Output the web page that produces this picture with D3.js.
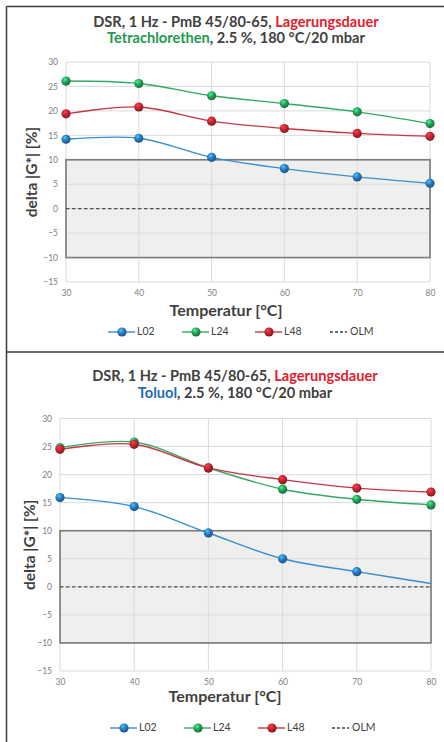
<!DOCTYPE html>
<html>
<head>
<meta charset="utf-8">
<script src="https://cdn.jsdelivr.net/npm/d3@7"></script>
<style>
  html, body { margin: 0; padding: 0; background: #fff; }
  svg { display: block; font-family: Lato, "Open Sans", sans-serif; }
</style>
</head>
<body>
<svg id="chart" width="444" height="742"></svg>
<script>
// ---------- DATA ----------
const temperatures = [30, 40, 50, 60, 70, 80];
const xTicks = [30, 40, 50, 60, 70, 80];
const yTicks = [-15, -10, -5, 0, 5, 10, 15, 20, 25, 30];
const seriesNames = ["L02", "L24", "L48"];
const refName = "OLM";
const tolerance = [-10, 10];

// Chart 1: Tetrachlorethen
const tetraL02 = [14.2, 14.4, 10.5, 8.2, 6.5, 5.2];
const tetraL24 = [26.1, 25.6, 23.1, 21.5, 19.8, 17.4];
const tetraL48 = [19.4, 20.8, 17.9, 16.4, 15.4, 14.8];

// Chart 2: Toluol
const toluolL02 = [15.9, 14.3, 9.6, 5.0, 2.7, 0.6];
const toluolL24 = [24.8, 25.8, 21.2, 17.4, 15.6, 14.6];
const toluolL48 = [24.5, 25.4, 21.2, 19.1, 17.6, 16.9];

const titleLine1 = ["DSR, 1 Hz - PmB 45/80-65, ", "Lagerungsdauer"];
const titleLine2Tetra = ["Tetrachlorethen", ", 2.5 %, 180 °C/20 mbar"];
const titleLine2Toluol = ["Toluol", ", 2.5 %, 180 °C/20 mbar"];
const yAxisTitle = "delta |G*| [%]";
const xAxisTitle = "Temperatur [°C]";

// ---------- STYLE ----------
const colors = { L02: "#2b7cc4", L24: "#27a35a", L48: "#c52630" };
const lineColors = { L02: "#3a8dd0", L24: "#35a866", L48: "#c33a44" };
const textDark = "#404040";
const titleRed = "#e3202c";
const titleGreen = "#1f9a4f";
const titleBlue = "#1f6db4";

const svg = d3.select("#chart");
const defs = svg.append("defs");
seriesNames.forEach(n => {
  const g = defs.append("radialGradient").attr("id", "ball-" + n)
    .attr("cx", "38%").attr("cy", "32%").attr("r", "70%");
  g.append("stop").attr("offset", "0%").attr("stop-color", d3.color(colors[n]).brighter(1.4));
  g.append("stop").attr("offset", "45%").attr("stop-color", colors[n]);
  g.append("stop").attr("offset", "100%").attr("stop-color", d3.color(colors[n]).darker(1.2));
});

// Panel borders
svg.append("line").attr("x1", 6.5).attr("x2", 444).attr("y1", 6.5).attr("y2", 6.5)
  .attr("stroke", "#3a3a3a").attr("stroke-width", 1.5);
svg.append("line").attr("x1", 6.5).attr("x2", 6.5).attr("y1", 6.5).attr("y2", 742)
  .attr("stroke", "#3a3a3a").attr("stroke-width", 1.5);
svg.append("line").attr("x1", 6.5).attr("x2", 444).attr("y1", 352).attr("y2", 352)
  .attr("stroke", "#3a3a3a").attr("stroke-width", 1.5);

function drawChart(cfg) {
  const g = svg.append("g");
  const x = d3.scaleLinear().domain([30, 80]).range(cfg.xRange);
  const y = d3.scaleLinear().domain([-15, 30]).range(cfg.yRange);

  // Title
  const t1 = g.append("text").attr("x", cfg.titleX).attr("y", cfg.titleY1)
    .attr("text-anchor", "middle").attr("font-weight", "bold").attr("font-size", 14.6);
  t1.append("tspan").attr("fill", textDark).text(titleLine1[0]);
  t1.append("tspan").attr("fill", titleRed).text(titleLine1[1]);
  const t2 = g.append("text").attr("x", cfg.titleX).attr("y", cfg.titleY2)
    .attr("text-anchor", "middle").attr("font-weight", "bold").attr("font-size", 14.6);
  t2.append("tspan").attr("fill", cfg.subColor).text(cfg.line2[0]);
  t2.append("tspan").attr("fill", textDark).text(cfg.line2[1]);

  // Tolerance box fill
  g.append("rect")
    .attr("x", x(30)).attr("y", y(tolerance[1]))
    .attr("width", x(80) - x(30)).attr("height", y(tolerance[0]) - y(tolerance[1]))
    .attr("fill", "#efefee");

  // Gridlines
  g.append("g").selectAll("line").data(yTicks).join("line")
    .attr("x1", x(30)).attr("x2", x(80))
    .attr("y1", d => y(d)).attr("y2", d => y(d))
    .attr("stroke", "#dadada").attr("stroke-width", 1);
  g.append("g").selectAll("line").data(xTicks).join("line")
    .attr("x1", d => x(d)).attr("x2", d => x(d))
    .attr("y1", y(-15)).attr("y2", y(30))
    .attr("stroke", "#dadada").attr("stroke-width", 1);

  // Tolerance box stroke
  g.append("rect")
    .attr("x", x(30)).attr("y", y(tolerance[1]))
    .attr("width", x(80) - x(30)).attr("height", y(tolerance[0]) - y(tolerance[1]))
    .attr("fill", "none").attr("stroke", "#7a7a7a").attr("stroke-width", 1.6);

  // OLM reference line
  g.append("line").attr("x1", x(30)).attr("x2", x(80)).attr("y1", y(0)).attr("y2", y(0))
    .attr("stroke", "#505050").attr("stroke-width", 1.3).attr("stroke-dasharray", "3.5,2.5");

  // Axis tick labels
  const yAxis = d3.axisLeft(y).tickValues(yTicks).tickSize(0).tickPadding(8);
  const ya = g.append("g").attr("transform", `translate(${x(30)},0)`).call(yAxis);
  ya.select(".domain").remove();
  ya.selectAll("text").attr("fill", "#808080").attr("font-size", 8.5).attr("font-family", "Lato, sans-serif");
  const xAxis = d3.axisBottom(x).tickValues(xTicks).tickSize(0).tickPadding(8);
  const xa = g.append("g").attr("transform", `translate(0,${y(-15)})`).call(xAxis);
  xa.select(".domain").remove();
  xa.selectAll("text").attr("fill", "#808080").attr("font-size", 8.5).attr("font-family", "Lato, sans-serif");

  // Axis titles
  g.append("text").attr("transform", `translate(${cfg.yTitleX},${(y(-15) + y(30)) / 2}) rotate(-90)`)
    .attr("text-anchor", "middle").attr("dominant-baseline", "middle")
    .attr("font-weight", "bold").attr("font-size", 15.5).attr("fill", textDark).text(yAxisTitle);
  g.append("text").attr("x", cfg.xTitleX).attr("y", cfg.xTitleY)
    .attr("text-anchor", "middle").attr("dominant-baseline", "middle")
    .attr("font-weight", "bold").attr("font-size", 16).attr("fill", textDark).text(xAxisTitle);

  // Series
  const line = d3.line().x((d, i) => x(temperatures[i])).y(d => y(d))
    .curve(d3.curveCatmullRom.alpha(0.5));
  cfg.order.forEach(name => {
    const vals = cfg.series[name];
    g.append("path").attr("d", line(vals)).attr("fill", "none")
      .attr("stroke", lineColors[name]).attr("stroke-width", 1.4);
  });
  cfg.order.forEach(name => {
    const vals = cfg.series[name];
    const shown = vals.map((v, i) => ({ v, i }))
      .filter(d => !(cfg.hideMarker[name] || []).includes(d.i));
    g.append("g").selectAll("circle").data(shown).join("circle")
      .attr("cx", d => x(temperatures[d.i])).attr("cy", d => y(d.v)).attr("r", 4.6)
      .attr("fill", `url(#ball-${name})`);
  });

  // Legend
  const lg = g.append("g").attr("transform", `translate(0,${cfg.legendY})`);
  seriesNames.forEach((name, k) => {
    const lx = cfg.legendX[k];
    lg.append("line").attr("x1", lx - 14).attr("x2", lx + 13).attr("y1", 0).attr("y2", 0)
      .attr("stroke", lineColors[name]).attr("stroke-width", 1.4);
    lg.append("circle").attr("cx", lx).attr("cy", 0).attr("r", 4.6).attr("fill", `url(#ball-${name})`);
    lg.append("text").attr("x", lx + 15).attr("y", 0).attr("dominant-baseline", "middle")
      .attr("font-size", 10.5).attr("fill", textDark).text(name);
  });
  const ox = cfg.legendX[3];
  lg.append("line").attr("x1", ox).attr("x2", ox + 17).attr("y1", 0).attr("y2", 0)
    .attr("stroke", "#404040").attr("stroke-width", 1.3).attr("stroke-dasharray", "3,2");
  lg.append("text").attr("x", ox + 20).attr("y", 0).attr("dominant-baseline", "middle")
    .attr("font-size", 10.5).attr("fill", textDark).text(refName);
}

drawChart({
  xRange: [66, 430], yRange: [282, 62],
  titleX: 236, titleY1: 27, titleY2: 43,
  line2: titleLine2Tetra, subColor: titleGreen,
  yTitleX: 33, xTitleX: 226, xTitleY: 312,
  series: { L02: tetraL02, L24: tetraL24, L48: tetraL48 },
  order: ["L02", "L48", "L24"],
  hideMarker: {},
  legendY: 332, legendX: [122, 196, 269, 330]
});

drawChart({
  xRange: [60, 431], yRange: [671, 418.5],
  titleX: 235, titleY1: 381, titleY2: 398,
  line2: titleLine2Toluol, subColor: titleBlue,
  yTitleX: 31, xTitleX: 225, xTitleY: 698,
  series: { L02: toluolL02, L24: toluolL24, L48: toluolL48 },
  order: ["L02", "L24", "L48"],
  hideMarker: { L02: [5] },
  legendY: 728, legendX: [124, 198, 272, 332]
});
</script>
</body>
</html>
